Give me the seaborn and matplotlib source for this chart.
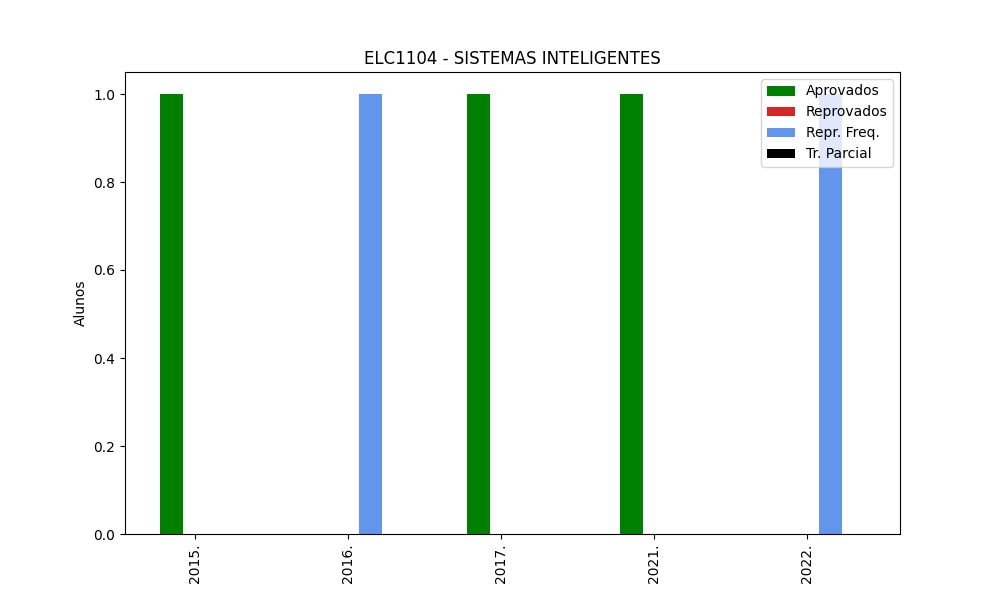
import numpy as np
import pandas as pd
import matplotlib
matplotlib.use('Agg')
import matplotlib.pyplot as plt
import seaborn as sns

# dados
semestres = ['2015.', '2016.', '2017.', '2021.', '2022.']
aprovados = [1, 0, 1, 1, 0]
reprovados = [0, 0, 0, 0, 0]
repr_freq = [0, 1, 0, 0, 1]
tr_parcial = [0, 0, 0, 0, 0]

series = [
    ('Aprovados', aprovados, 'green', -0.15),
    ('Reprovados', reprovados, 'tab:red', 0.0),
    ('Repr. Freq.', repr_freq, 'cornflowerblue', 0.15),
    ('Tr. Parcial', tr_parcial, 'black', 0.30),
]

fig, ax = plt.subplots(figsize=(10, 6), dpi=100)
pos = np.arange(len(semestres))

for nome, valores, cor, desloc in series:
    df = pd.DataFrame({'x': pos + desloc, 'y': valores})
    sns.barplot(data=df, x='x', y='y', native_scale=True, width=0.15,
                color=cor, saturation=1, errorbar=None, linewidth=0,
                label=nome, ax=ax)

ax.set_xticks(pos)
ax.set_xticklabels(semestres, rotation=90)
ax.set_xlabel('')
ax.set_ylabel('Alunos')
ax.set_title('ELC1104 - SISTEMAS INTELIGENTES')
ax.legend(loc='upper right')

plt.savefig('out.png')
